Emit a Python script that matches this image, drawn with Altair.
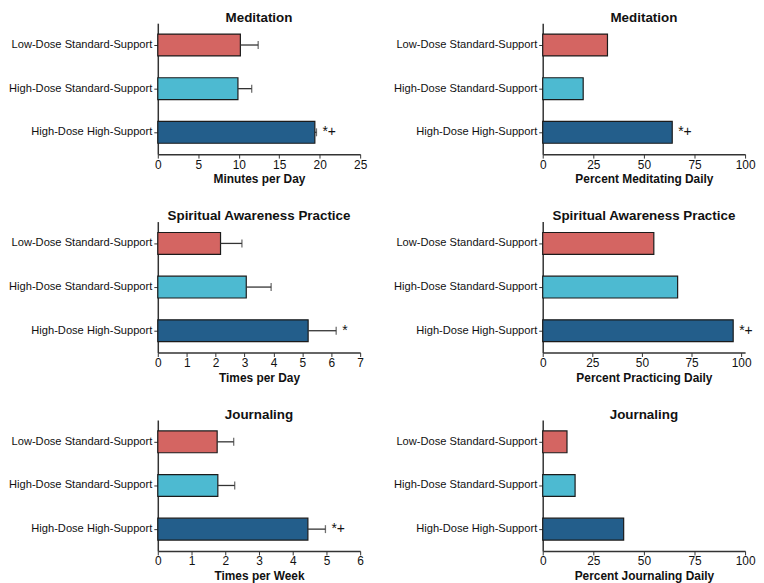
import altair as alt
import pandas as pd

groups = ["Low-Dose Standard-Support", "High-Dose Standard-Support", "High-Dose High-Support"]
colors = ["#D46562", "#4DBAD1", "#235E8B"]

# Left column (means with one-sided error bars)
med_minutes = [10.2, 9.9, 19.4]
med_minutes_upper = [12.4, 11.6, 19.6]
med_minutes_annot = ["", "", "*+"]

spirit_times = [2.17, 3.06, 5.2]
spirit_times_upper = [2.91, 3.92, 6.17]
spirit_times_annot = ["", "", "*"]

journal_times = [1.76, 1.78, 4.45]
journal_times_upper = [2.25, 2.28, 4.97]
journal_times_annot = ["", "", "*+"]

# Right column (percent daily)
med_pct = [32, 20, 64]
med_pct_annot = ["", "", "*+"]
spirit_pct = [56, 68, 96]
spirit_pct_annot = ["", "", "*+"]
journal_pct = [12, 16, 40]
journal_pct_annot = ["", "", ""]

FONT = "Liberation Sans"
PW, PH = 204, 132


def panel(title, xtitle, values, annots, domain, ticks, uppers=None):
    rows = []
    for i, g in enumerate(groups):
        up = uppers[i] if uppers is not None else values[i]
        rows.append({"group": g, "value": values[i], "upper": up, "annot": annots[i]})
    df = pd.DataFrame(rows)
    base = alt.Chart(df)
    yaxis = alt.Axis(labelFontSize=11.2, labelFont=FONT, labelColor="#111",
                     tickSize=4, labelPadding=2, domainColor="#333",
                     tickColor="#333", domainWidth=1.5, tickWidth=1,
                     labelLimit=300)
    xaxis = alt.Axis(values=ticks, labelFontSize=12, labelFont=FONT,
                     labelColor="#111", tickSize=4, labelPadding=1,
                     domainColor="#333", tickColor="#333", domainWidth=1.5,
                     tickWidth=1, titleFont=FONT, titleFontSize=12,
                     titleFontWeight="bold", titleColor="#111",
                     titlePadding=4, grid=False, labelFlush=False,
                     labelOverlap=False)
    xscale = alt.Scale(domain=domain, nice=False, zero=True)

    def X(field):
        return alt.X(field, title=xtitle, scale=xscale, axis=xaxis)

    def Y():
        return alt.Y("group:N", sort=groups, title=None,
                     scale=alt.Scale(paddingInner=0.5, paddingOuter=0.25), axis=yaxis)

    bars = base.mark_bar(stroke="#1b1b1b", strokeWidth=1.2).encode(
        x=X("value:Q"), y=Y(),
        color=alt.Color("group:N", scale=alt.Scale(domain=groups, range=colors), legend=None),
    )
    layers = []
    if uppers is not None:
        rule = base.mark_rule(color="#333", strokeWidth=1.3).encode(
            x=X("value:Q"), x2="upper:Q", y=Y())
        cap = base.mark_tick(color="#333", thickness=1.3, size=8, orient="vertical").encode(
            x=X("upper:Q"), y=Y())
        layers += [rule, cap]
    txt = base.transform_filter(alt.datum.annot != "").mark_text(
        align="left", baseline="middle", dx=6, fontSize=14, font=FONT, color="#111"
    ).encode(x=X("upper:Q"), y=Y(), text="annot:N")
    layers.append(txt)
    return alt.layer(bars, *layers).properties(
        width=PW, height=PH,
        title=alt.TitleParams(title, font=FONT, fontSize=13.5, fontWeight="bold",
                              color="#111", anchor="middle", frame="group", offset=-1),
    )


left = alt.vconcat(
    panel("Meditation", "Minutes per Day", med_minutes, med_minutes_annot, [0, 25],
          [0, 5, 10, 15, 20, 25], med_minutes_upper),
    panel("Spiritual Awareness Practice", "Times per Day", spirit_times, spirit_times_annot,
          [0, 7], [0, 1, 2, 3, 4, 5, 6, 7], spirit_times_upper),
    panel("Journaling", "Times per Week", journal_times, journal_times_annot, [0, 6],
          [0, 1, 2, 3, 4, 5, 6], journal_times_upper),
    spacing=24,
)
right = alt.vconcat(
    panel("Meditation", "Percent Meditating Daily", med_pct, med_pct_annot, [0, 100],
          [0, 25, 50, 75, 100]),
    panel("Spiritual Awareness Practice", "Percent Practicing Daily", spirit_pct,
          spirit_pct_annot, [0, 102], [0, 25, 50, 75, 100]),
    panel("Journaling", "Percent Journaling Daily", journal_pct, journal_pct_annot, [0, 100],
          [0, 25, 50, 75, 100]),
    spacing=24,
)

chart = alt.hconcat(left, right, spacing=26).configure(padding=0).configure_view(
    stroke=None
).configure_axis(grid=False)

chart.save("out.html", embed_options={"renderer": "svg", "actions": False})
